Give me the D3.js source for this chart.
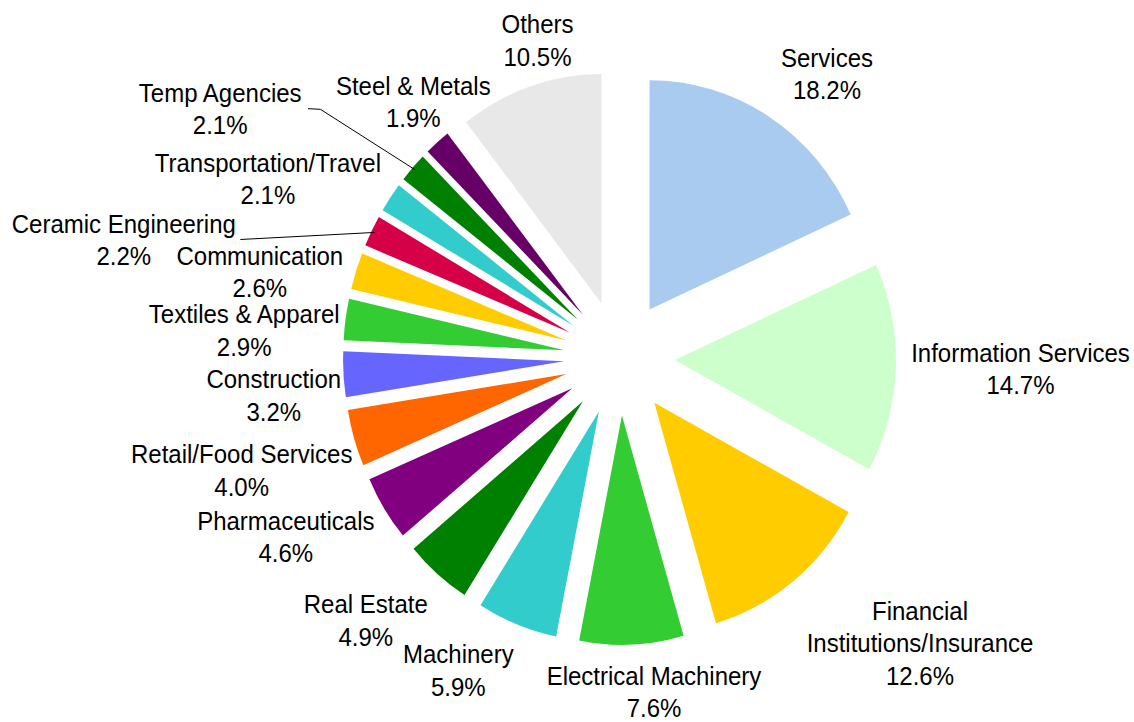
<!DOCTYPE html>
<html>
<head>
<meta charset="utf-8">
<script src="https://cdn.jsdelivr.net/npm/d3@7"></script>
<style>
  html, body { margin: 0; padding: 0; background: #fff; }
  svg { display: block; }
  text { font-family: "Liberation Sans", Arial, sans-serif; font-size: 24px; fill: #000; }
</style>
</head>
<body>
<svg id="chart" width="1134" height="722"></svg>
<script>
// Industry shares (%), clockwise from 12 o'clock
const categories = [
  "Services", "Information Services", "Financial Institutions/Insurance",
  "Electrical Machinery", "Machinery", "Real Estate", "Pharmaceuticals",
  "Retail/Food Services", "Construction", "Textiles & Apparel", "Communication",
  "Ceramic Engineering", "Transportation/Travel", "Temp Agencies",
  "Steel & Metals", "Others"
];
const shares = [18.2, 14.7, 12.6, 7.6, 5.9, 4.9, 4.6, 4.0, 3.2, 2.9, 2.6, 2.2, 2.1, 2.1, 1.9, 10.5];
const sliceColors = [
  "#A9CBF0", "#CCFFCC", "#FFCC00", "#33CC33", "#33CCCC", "#008000", "#800080",
  "#FF6600", "#6666FF", "#33CC33", "#FFCC00", "#D60048", "#33CCCC", "#008000",
  "#660066", "#E8E8E8"
];
// Label text lines (name may wrap)
const labelLines = [
  ["Services"], ["Information Services"], ["Financial", "Institutions/Insurance"],
  ["Electrical Machinery"], ["Machinery"], ["Real Estate"], ["Pharmaceuticals"],
  ["Retail/Food Services"], ["Construction"], ["Textiles & Apparel"], ["Communication"],
  ["Ceramic Engineering"], ["Transportation/Travel"], ["Temp Agencies"],
  ["Steel & Metals"], ["Others"]
];

// Layout: label centre x and first baseline y
const labelPos = [
  [827, 66.7], [1020.5, 361.7], [920, 620], [654, 685], [458.3, 663.3],
  [365.8, 613.3], [285.8, 530], [241.7, 463.3], [273.8, 388.3], [244.2, 323.3],
  [259.8, 265], [123.8, 232.7], [267.9, 171.7], [220.2, 101.7], [413.3, 95],
  [537.5, 33.3]
];
// Leader-line starting points next to the labels that sit away from their slice
const leaderStart = {
  13: [[308, 108.7], [320.4, 109.3]],
  11: [[240.4, 239.5], [246, 239.2]]
};

const cx = 619.5, cy = 358;
const radius = 221;
const explode = 55.5;
const yStretch = 1.038;
const lineGap = 32.4;

const svg = d3.select("#chart");

const pie = d3.pie().sort(null).value(d => d).startAngle(0).endAngle(2 * Math.PI);
const arcs = pie(shares);
const arc = d3.arc().innerRadius(0).outerRadius(radius);

const pieG = svg.append("g")
  .attr("transform", `translate(${cx},${cy}) scale(1,${yStretch})`);

pieG.selectAll("path.slice")
  .data(arcs)
  .join("path")
  .attr("class", "slice")
  .attr("d", arc)
  .attr("fill", (d, i) => sliceColors[i])
  .attr("transform", d => {
    const mid = (d.startAngle + d.endAngle) / 2;
    return `translate(${explode * Math.sin(mid)},${-explode * Math.cos(mid)})`;
  });

// screen point on the exploded slice's outer arc, at its mid angle
function outerMid(d, k) {
  const mid = (d.startAngle + d.endAngle) / 2;
  const rr = explode + radius * k;
  return [cx + rr * Math.sin(mid), cy - yStretch * rr * Math.cos(mid)];
}

// leader lines
const line = d3.line();
Object.keys(leaderStart).forEach(k => {
  const i = +k;
  const pts = leaderStart[i].concat([outerMid(arcs[i], 0.985)]);
  svg.append("path")
    .attr("d", line(pts))
    .attr("fill", "none")
    .attr("stroke", "#000")
    .attr("stroke-width", 1);
});

// data labels
const fmt = d3.format(".1f");
const labels = svg.selectAll("g.label")
  .data(arcs)
  .join("g")
  .attr("class", "label")
  .attr("transform", (d, i) => `translate(${labelPos[i][0]},${labelPos[i][1]}) scale(1,${yStretch})`);

labels.each(function (d, i) {
  const g = d3.select(this);
  const lines = labelLines[i].concat([fmt(d.data) + "%"]);
  lines.forEach((t, j) => {
    g.append("text")
      .attr("x", 0)
      .attr("y", j * lineGap / yStretch)
      .attr("text-anchor", "middle")
      .text(t);
  });
});
</script>
</body>
</html>
